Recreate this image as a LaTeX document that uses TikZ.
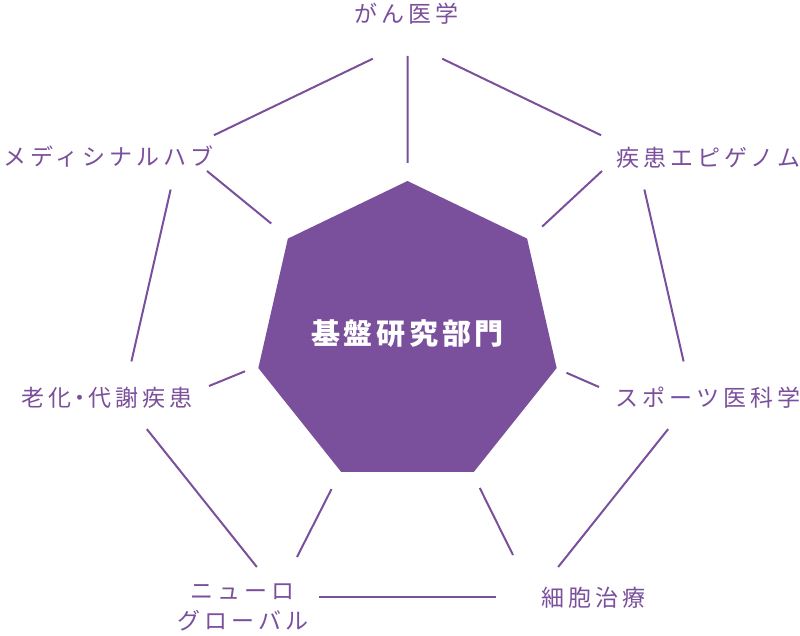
\documentclass[tikz,border=0pt]{standalone}
\usepackage{fontspec}
\usepackage{tikz}
\usetikzlibrary{shapes.geometric}
\newfontfamily\jplabel{Noto Sans CJK JP}[LetterSpace=17.4]
\newfontfamily\jphub{Noto Sans CJK JP}[LetterSpace=13]
\definecolor{kibanpurple}{HTML}{7A4F9C}

\begin{document}
\begin{tikzpicture}[
    x=1pt, y=1pt,
    hub/.style={regular polygon, regular polygon sides=7, minimum size=306pt, inner sep=0pt, outer sep=0pt, fill=kibanpurple, text=white, font=\jphub\bfseries\fontsize{29}{34}\selectfont},
    field/.style={inner sep=0pt, text=kibanpurple, font=\jplabel\fontsize{23}{30}\selectfont, align=center},
    link/.style={draw=kibanpurple, line width=2pt},
    rim/.style={link, shorten <=38.5pt, shorten >=38.5pt}
]
    \useasboundingbox (-407.5,-301) rectangle (392.5,334);

    % Core department
    \node[hub] (hub) at (0,0) {基盤研究部門};

    % Research fields
    \node[field] (gan) at (-0.5,320.5) {がん医学};
    \node[field] (epi) at (301,176) {疾患エピゲノム};
    \node[field] (sport) at (300.5,-63.5) {スポーツ医科学};
    \node[field] (cell) at (186.5,-263.5) {細胞治療};
    \node[field] (neuro) at (-164.5,-273) {ニューロ\\グローバル};
    \node[field] (aging) at (-300.5,-64) {老化\kern-3pt・\kern-3pt代謝疾患};
    \node[field] (medhub) at (-299,177.5) {メディシナルハブ};

    % Corners of the outer ring
    \coordinate (o0) at (90:292);
    \coordinate (o1) at (38.57:292);
    \coordinate (o2) at (347.14:292);
    \coordinate (o3) at (295.71:292);
    \coordinate (o4) at (244.29:292);
    \coordinate (o5) at (192.86:292);
    \coordinate (o6) at (141.43:292);

    % Free ends of the spokes
    \coordinate (r0) at (0,278);
    \coordinate (r1) at (194.5,163);
    \coordinate (r2) at (191.5,-53);
    \coordinate (r3) at (105.5,-221);
    \coordinate (r4) at (-110.5,-223);
    \coordinate (r5) at (-198.5,-52);
    \coordinate (r6) at (-200.5,163);

    % Spokes from the core
    \draw[link, shorten <=18pt] (hub.90) -- (r0);
    \draw[link, shorten <=20pt] (hub.38.57) -- (r1);
    \draw[link, shorten <=11pt] (hub.347.14) -- (r2);
    \draw[link, shorten <=18pt] (hub.295.71) -- (r3);
    \draw[link, shorten <=20pt] (hub.244.29) -- (r4);
    \draw[link, shorten <=15pt] (hub.192.86) -- (r5);
    \draw[link, shorten <=23pt] (hub.141.43) -- (r6);

    % Outer ring
    \draw[rim] (o0) -- (o1);
    \draw[rim] (o1) -- (o2);
    \draw[rim] (o2) -- (o3);
    \draw[rim] (o3) -- (o4);
    \draw[rim] (o4) -- (o5);
    \draw[rim] (o5) -- (o6);
    \draw[rim] (o6) -- (o0);
\end{tikzpicture}
\end{document}
